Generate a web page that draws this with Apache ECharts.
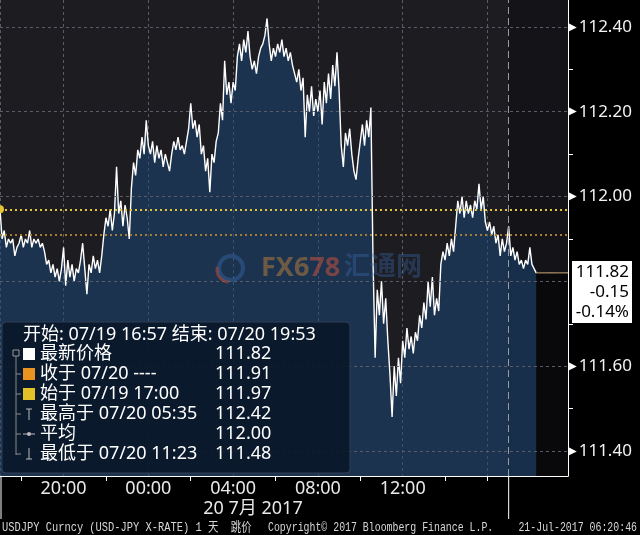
<!DOCTYPE html>
<html>
<head>
<meta charset="utf-8">
<script src="https://cdn.jsdelivr.net/npm/echarts@6/dist/echarts.min.js"></script>
<style>
  html, body { margin: 0; padding: 0; background: #000; }
  #chart { width: 640px; height: 535px; }
</style>
</head>
<body>
<div id="chart"></div>
<script>
// USDJPY 1 day, 6-minute steps starting 07/19 17:00
var prices = [
  111.97, 111.90, 111.92, 111.88, 111.90, 111.89, 111.90, 111.86, 111.88, 111.89, // 17:00
  111.91, 111.88, 111.90, 111.89, 111.92, 111.88, 111.90, 111.89, 111.90, 111.88, // 18:00
  111.89, 111.87, 111.84, 111.85, 111.82, 111.84, 111.81, 111.83, 111.80, 111.83, // 19:00
  111.88, 111.79, 111.85, 111.81, 111.84, 111.80, 111.83, 111.82, 111.85, 111.89, // 20:00
  111.83, 111.77, 111.84, 111.82, 111.86, 111.83, 111.85, 111.82, 111.86, 111.91, // 21:00
  111.95, 111.93, 111.97, 111.92, 111.96, 112.07, 111.96, 111.99, 111.93, 111.98, // 22:00
  111.95, 111.90, 112.02, 112.08, 112.05, 112.11, 112.09, 112.14, 112.10, 112.18, // 23:00
  112.12, 112.10, 112.13, 112.08, 112.12, 112.09, 112.11, 112.07, 112.10, 112.08, // 00:00
  112.06, 112.10, 112.13, 112.11, 112.14, 112.11, 112.12, 112.10, 112.13, 112.16, // 01:00
  112.22, 112.16, 112.18, 112.14, 112.17, 112.10, 112.12, 112.06, 112.09, 112.01, // 02:00
  112.10, 112.08, 112.13, 112.15, 112.22, 112.18, 112.32, 112.24, 112.27, 112.22, // 03:00
  112.27, 112.25, 112.33, 112.36, 112.32, 112.37, 112.34, 112.39, 112.33, 112.30, // 04:00
  112.32, 112.29, 112.33, 112.35, 112.36, 112.38, 112.42, 112.36, 112.32, 112.35, // 05:00
  112.33, 112.36, 112.34, 112.37, 112.33, 112.35, 112.32, 112.34, 112.31, 112.29, // 06:00
  112.27, 112.30, 112.25, 112.28, 112.14, 112.24, 112.20, 112.26, 112.19, 112.23, // 07:00
  112.20, 112.25, 112.17, 112.27, 112.22, 112.29, 112.23, 112.31, 112.26, 112.34, // 08:00
  112.25, 112.12, 112.07, 112.15, 112.12, 112.16, 112.10, 112.06, 112.04, 112.09, // 09:00
  112.13, 112.17, 112.12, 112.18, 112.14, 112.21, 111.85, 111.62, 111.78, 111.72, // 10:00
  111.80, 111.70, 111.76, 111.66, 111.58, 111.48, 111.60, 111.53, 111.62, 111.56, // 11:00
  111.66, 111.62, 111.69, 111.64, 111.67, 111.63, 111.68, 111.66, 111.72, 111.69, // 12:00
  111.75, 111.71, 111.80, 111.74, 111.81, 111.72, 111.76, 111.73, 111.84, 111.87, // 13:00
  111.85, 111.89, 111.86, 111.90, 111.87, 111.93, 111.99, 111.96, 112.00, 111.95, // 14:00
  111.99, 111.96, 111.98, 111.95, 111.99, 111.97, 112.03, 111.97, 112.00, 111.94, // 15:00
  111.92, 111.94, 111.91, 111.93, 111.89, 111.91, 111.86, 111.90, 111.87, 111.89, // 16:00
  111.93, 111.86, 111.88, 111.85, 111.87, 111.84, 111.85, 111.83, 111.85, 111.84, // 17:00
  111.88, 111.84, 111.83, 111.82                                                  // 18:00
];
var slotCount = 269;          // 17:00 .. ~19:48 next day
var labelSlots = [30, 70, 110, 150, 190];
var tickSlots = [10, 50, 90, 130, 170, 210, 230];
var gridSlots = [0, 30, 70, 110, 150, 190, 230];
var sessionSlot = 240;

var yLabels = [111.4, 111.6, 112.0, 112.2, 112.4];
var yMinorTicks = [111.5, 111.7, 111.9, 112.1, 112.3];
var yGrid = [111.4, 111.6, 111.8, 112.0, 112.2, 112.4];
var closeLevel = 111.91;
var openLevel = 111.97;
var priceTag = ['111.82', '-0.15', '-0.14%'];

var legendHeader = '开始: 07/19 16:57 结束: 07/20 19:53';
var legendLabels = ['最新价格', '收于 07/20 ----', '始于 07/19 17:00', '最高于 07/20 05:35', '平均', '最低于 07/20 11:23'];
var legendValues = ['111.82', '111.91', '111.97', '112.42', '112.00', '111.48'];
var legendIcons = ['#ffffff', '#ea9320', '#e2c227', 'high', 'avg', 'low'];

var FONT = "'Noto Sans', 'Noto Sans CJK SC', sans-serif";

var categories = [];
for (var i = 0; i < slotCount; i++) {
  var m = (17 * 60 + i * 6) % 1440;
  var hh = Math.floor(m / 60), mm = m % 60;
  categories.push((hh < 10 ? '0' : '') + hh + ':' + (mm < 10 ? '0' : '') + mm);
}
var lastIdx = prices.length - 1;
var lastLine = [];
for (var j = 0; j < slotCount; j++) {
  lastLine.push(j < lastIdx ? '-' : prices[lastIdx]);
}

var myChart = echarts.init(document.getElementById('chart'));

var option = {
  backgroundColor: '#000',
  animation: false,
  grid: { left: 0, right: 72, top: 0, bottom: 59, show: true, backgroundColor: '#1d1c21', borderWidth: 0 },
  xAxis: {
    type: 'category',
    data: categories,
    boundaryGap: false,
    axisLine: { show: true, lineStyle: { color: '#fff', width: 1 } },
    axisTick: {
      show: true, length: 5, lineStyle: { color: '#fff' },
      interval: function (idx) { return tickSlots.indexOf(idx) >= 0; }
    },
    axisLabel: {
      color: '#e8e8e8', fontSize: 18, fontFamily: FONT, margin: 4,
      interval: function (idx) { return labelSlots.indexOf(idx) >= 0; }
    },
    splitLine: {
      show: true, lineStyle: { color: '#5c5c66', type: [3, 3], width: 1 },
      interval: function (idx) { return gridSlots.indexOf(idx) >= 0; }
    }
  },
  yAxis: {
    type: 'value',
    position: 'right',
    min: 111.341,
    max: 112.4635,
    axisLine: { show: true, lineStyle: { color: '#fff', width: 1 } },
    axisTick: { show: true, length: 5, customValues: yMinorTicks, lineStyle: { color: '#fff' } },
    axisLabel: {
      customValues: yLabels,
      margin: 1,
      formatter: function (v) { return '{t|▶}{v|' + v.toFixed(2) + '}'; },
      rich: {
        t: { color: '#fff', fontSize: 10, fontFamily: 'DejaVu Sans', padding: [0, 2, 0, 0] },
        v: { color: '#f2f2f2', fontSize: 17, fontFamily: FONT }
      }
    },
    splitLine: { show: false }
  },
  series: [
    {
      type: 'line',
      data: prices,
      symbol: 'none',
      z: 3,
      lineStyle: { color: '#ffffff', width: 1.4 },
      areaStyle: { color: 'rgba(28,74,124,0.74)', origin: 'start' },
      markLine: {
        silent: true,
        symbol: 'none',
        label: { show: false },
        data: yGrid.map(function (v) {
          return { yAxis: v, lineStyle: { color: '#5c5c66', type: [3, 3], width: 1 } };
        }).concat([
          { yAxis: openLevel, lineStyle: { color: '#e2c43a', type: [2, 3], width: 2 } },
          { yAxis: closeLevel, lineStyle: { color: '#a47c34', type: [2, 3], width: 2 } },
          { xAxis: sessionSlot, lineStyle: { color: '#9a9aa2', type: [7, 4], width: 1 } }
        ])
      },
      markArea: {
        silent: true,
        data: [
          [{ xAxis: sessionSlot, itemStyle: { color: 'rgba(0,0,0,0.3)' } }, { xAxis: slotCount - 1 }],
          [{ xAxis: lastIdx, yAxis: 111.341, itemStyle: { color: 'rgba(0,0,0,0.55)' } }, { xAxis: slotCount - 1, yAxis: prices[lastIdx] }]
        ]
      },
      markPoint: {
        silent: true,
        symbol: 'circle',
        symbolSize: 8,
        label: { show: false },
        itemStyle: { color: '#e6c535' },
        data: [{ coord: [0, openLevel] }]
      }
    },
    {
      type: 'line',
      data: lastLine,
      symbol: 'none',
      z: 4,
      lineStyle: { color: '#d9b27e', width: 1 },
      endLabel: {
        show: true,
        distance: 4,
        offset: [0, 19],
        backgroundColor: '#fff',
        padding: [1, 3, 1, 3],
        formatter: function () {
          return priceTag.map(function (s) { return '{a|' + s + '}'; }).join('\n');
        },
        rich: {
          a: { width: 54, align: 'right', color: '#000', fontSize: 17, lineHeight: 20, fontFamily: FONT }
        }
      }
    }
  ]
};
myChart.setOption(option);

// decorations that need pixel positions from the axes
var xStart = myChart.convertToPixel({ xAxisIndex: 0 }, 0);
var xSess = myChart.convertToPixel({ xAxisIndex: 0 }, sessionSlot);
var footFont = "13px 'Liberation Mono', 'Noto Sans CJK SC', monospace";
var graphics = [
  { type: 'line', z: 50, shape: { x1: xStart + 1, y1: 476, x2: xStart + 1, y2: 519 }, style: { stroke: '#fff', lineWidth: 1 } },
  { type: 'line', z: 50, shape: { x1: xSess, y1: 476, x2: xSess, y2: 519 }, style: { stroke: '#fff', lineWidth: 1 } },
  { type: 'text', z: 50, x: 253, y: 509, style: { text: '20 7月 2017', fill: '#e8e8e8', font: '18px ' + FONT, textAlign: 'center', textVerticalAlign: 'middle' } },
  { type: 'text', z: 50, x: 2, y: 528, scaleX: 0.8, style: { text: 'USDJPY Curncy (USD-JPY X-RATE) 1 天  跳价', fill: '#d8d8d8', font: footFont, textVerticalAlign: 'middle' } },
  { type: 'text', z: 50, x: 268, y: 528, scaleX: 0.76, style: { text: 'Copyright© 2017 Bloomberg Finance L.P.', fill: '#d8d8d8', font: footFont, textVerticalAlign: 'middle' } },
  { type: 'text', z: 50, x: 637, y: 528, scaleX: 0.76, style: { text: '21-Jul-2017 06:20:46', fill: '#d8d8d8', font: footFont, textAlign: 'right', textVerticalAlign: 'middle' } },
  // watermark
  { type: 'circle', z: 10, shape: { cx: 231, cy: 268, r: 12 }, style: { fill: 'none', stroke: 'rgba(60,110,180,0.4)', lineWidth: 4 } },
  { type: 'arc', z: 10, shape: { cx: 229, cy: 270, r: 12, startAngle: 1.6, endAngle: 3.4 }, style: { fill: 'none', stroke: 'rgba(200,80,50,0.5)', lineWidth: 3 } },
  { type: 'text', z: 10, x: 261, y: 268, style: {
      text: '{a|FX6}{b|78}', textVerticalAlign: 'middle',
      rich: {
        a: { fill: 'rgba(190,130,60,0.5)', font: 'bold 27px ' + FONT },
        b: { fill: 'rgba(200,80,60,0.55)', font: 'bold 27px ' + FONT }
      }
    } },
  { type: 'text', z: 10, x: 344, y: 268, style: { text: '汇通网', fill: 'rgba(60,110,180,0.35)', font: 'bold 26px ' + FONT, textVerticalAlign: 'middle' } }
];

// info box
var box = [
  { type: 'rect', shape: { x: 2, y: 322, width: 348, height: 151, r: 4 }, style: { fill: 'rgba(10,22,40,0.9)', stroke: '#2f3f56', lineWidth: 1 } },
  { type: 'text', x: 23, y: 335, style: { text: legendHeader, fill: '#fff', font: '18px ' + FONT, textVerticalAlign: 'middle' } },
  { type: 'rect', shape: { x: 13, y: 350, width: 6, height: 6 }, style: { fill: 'none', stroke: '#9a9a9a', lineWidth: 1 } },
  { type: 'line', shape: { x1: 16, y1: 356, x2: 16, y2: 455 }, style: { stroke: '#8a8a8a', lineWidth: 1 } }
];
legendLabels.forEach(function (name, k) {
  var cy = 354 + k * 20;
  var icon = legendIcons[k];
  if (k > 0) box.push({ type: 'line', shape: { x1: 16, y1: cy, x2: 21, y2: cy }, style: { stroke: '#8a8a8a', lineWidth: 1 } });
  if (icon === 'high') {
    box.push({ type: 'line', shape: { x1: 29, y1: cy - 5, x2: 29, y2: cy + 6 }, style: { stroke: '#bbb', lineWidth: 1 } });
    box.push({ type: 'line', shape: { x1: 26, y1: cy - 5, x2: 32, y2: cy - 5 }, style: { stroke: '#bbb', lineWidth: 1 } });
  } else if (icon === 'low') {
    box.push({ type: 'line', shape: { x1: 29, y1: cy - 6, x2: 29, y2: cy + 5 }, style: { stroke: '#bbb', lineWidth: 1 } });
    box.push({ type: 'line', shape: { x1: 26, y1: cy + 5, x2: 32, y2: cy + 5 }, style: { stroke: '#bbb', lineWidth: 1 } });
  } else if (icon === 'avg') {
    box.push({ type: 'line', shape: { x1: 23, y1: cy, x2: 35, y2: cy }, style: { stroke: '#bbb', lineWidth: 1 } });
    box.push({ type: 'circle', shape: { cx: 29, cy: cy, r: 2 }, style: { fill: '#bbb' } });
  } else {
    box.push({ type: 'rect', shape: { x: 23, y: cy - 6, width: 12, height: 12 }, style: { fill: icon } });
  }
  box.push({ type: 'text', x: 40, y: cy, style: { text: name, fill: '#fff', font: '18px ' + FONT, textVerticalAlign: 'middle' } });
  box.push({ type: 'text', x: 215, y: cy, style: { text: legendValues[k], fill: '#fff', font: '18px ' + FONT, textVerticalAlign: 'middle' } });
});
box.forEach(function (el) { el.z = 100; });

myChart.setOption({ graphic: graphics.concat(box) });
window.addEventListener('resize', function () { myChart.resize(); });
</script>
</body>
</html>
